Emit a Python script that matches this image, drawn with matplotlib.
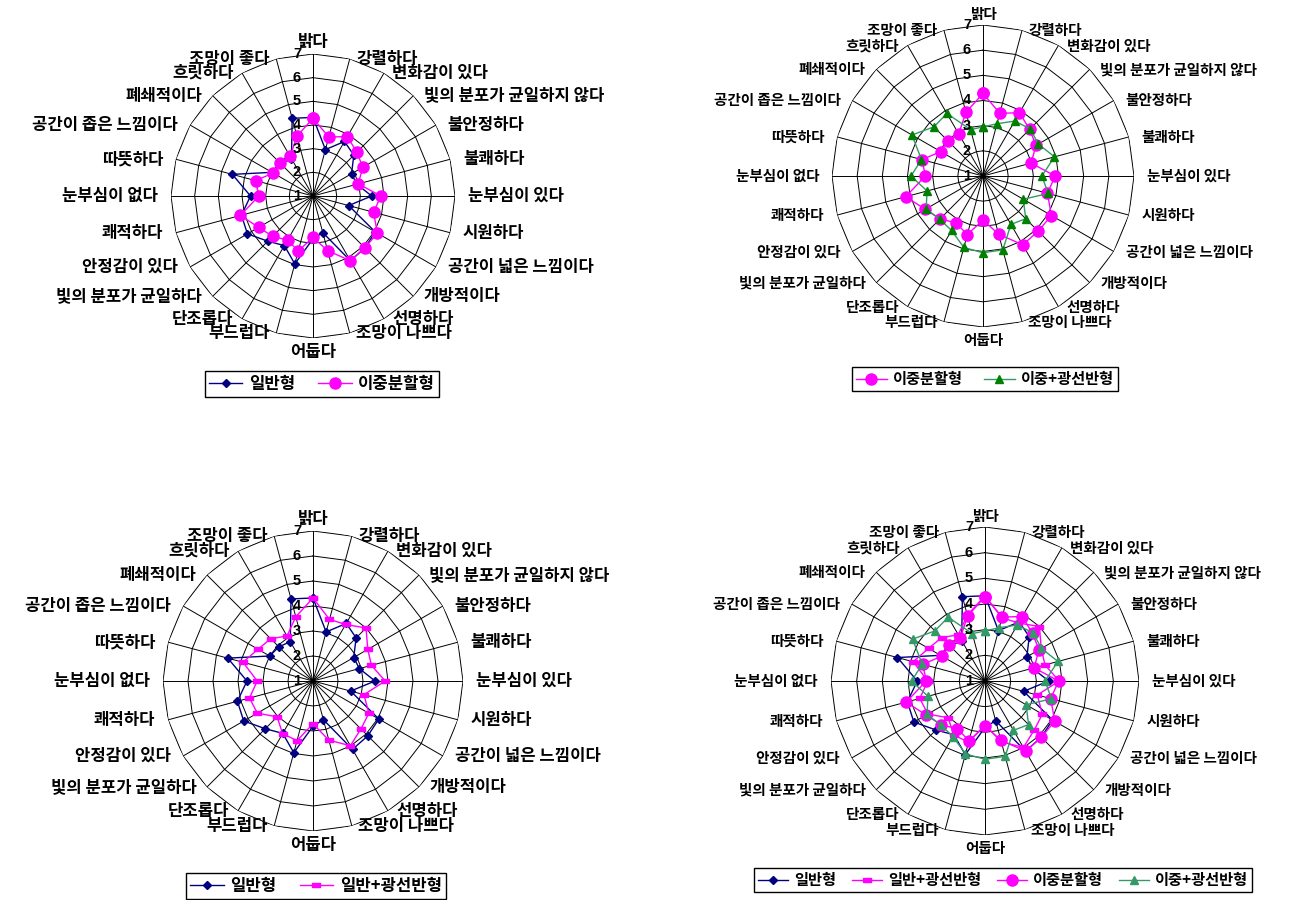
import numpy as np
import matplotlib
matplotlib.use("Agg")
import matplotlib.pyplot as plt

plt.rcParams['font.family'] = ['Noto Sans CJK KR', 'DejaVu Sans']

# ---- data -------------------------------------------------------------
categories = [
    '밝다', '강렬하다', '변화감이 있다', '빛의 분포가 균일하지 않다', '불안정하다',
    '불쾌하다', '눈부심이 있다', '시원하다', '공간이 넓은 느낌이다', '개방적이다',
    '선명하다', '조망이 나쁘다', '어둡다', '부드럽다', '단조롭다',
    '빛의 분포가 균일하다', '안정감이 있다', '쾌적하다', '눈부심이 없다', '따뜻하다',
    '공간이 좁은 느낌이다', '폐쇄적이다', '흐릿하다', '조망이 좋다',
]

general = [4.32, 3.03, 3.66, 3.44, 2.88, 2.92, 3.48, 2.56, 4.04, 4.10, 4.16, 2.60,
           2.81, 3.97, 3.42, 3.70, 4.20, 4.13, 3.64, 4.53, 3.00, 2.93, 2.82, 4.40]
dual = [4.28, 3.58, 3.90, 3.62, 3.43, 2.98, 3.87, 3.65, 4.14, 4.10, 4.16, 3.39,
        2.75, 3.41, 3.15, 3.41, 3.65, 4.18, 3.29, 3.51, 2.94, 2.98, 2.93, 3.62]
general_shelf = [4.32, 3.55, 3.61, 4.00, 3.53, 3.42, 3.89, 3.11, 3.58, 3.71, 3.99, 3.45,
                 2.71, 3.47, 3.43, 3.03, 3.57, 3.63, 3.23, 3.90, 3.54, 3.39, 3.08, 3.66]
dual_shelf = [2.95, 3.15, 3.52, 3.65, 3.54, 3.94, 3.34, 3.68, 2.85, 3.40, 3.22, 4.04,
              4.05, 3.94, 3.50, 3.43, 3.61, 3.30, 3.86, 3.53, 4.26, 3.76, 3.87, 2.91]

series_names = ['일반형', '일반+광선반형', '이중분할형', '이중+광선반형']
scale_ticks = [1, 2, 3, 4, 5, 6, 7]

# ---- styles -----------------------------------------------------------
rect_marker = [(-1, -0.45), (1, -0.45), (1, 0.45), (-1, 0.45), (-1, -0.45)]
styles = {
    '일반형': dict(color='#000080', marker='D', ms=4.5, lw=1.0),
    '일반+광선반형': dict(color='#FF00FF', marker=rect_marker, ms=6, lw=1.0),
    '이중분할형': dict(color='#FF00FF', marker='o', ms=8, lw=1.0),
    '이중+광선반형': dict(color='#339966', marker='^', ms=6, lw=1.0,
                       mfc='#008000', mec='#008000'),
}
values = {'일반형': general, '일반+광선반형': general_shelf,
          '이중분할형': dual, '이중+광선반형': dual_shelf}

W, H = 1304, 900
fig = plt.figure(figsize=(W / 100, H / 100), dpi=100)
fig.patch.set_facecolor('white')

n = len(categories)
theta = np.deg2rad(np.arange(n) * 360.0 / n)
theta_closed = np.append(theta, theta[0])


def radar(cx, cy, R, names, label_fs, legend_fs, legend_center,
          green_marker=None, colspace=1.4):
    ax = fig.add_axes([(cx - R) / W, 1 - (cy + R) / H, 2 * R / W, 2 * R / H],
                      projection='polar')
    ax.set_theta_zero_location('N')
    ax.set_theta_direction(-1)
    rmin, rmax = scale_ticks[0], scale_ticks[-1]
    ax.set_ylim(rmin, rmax)
    ax.grid(False)
    ax.set_xticks([])
    ax.set_yticks([])
    ax.spines['polar'].set_visible(False)
    ax.patch.set_alpha(0)

    # polygonal rings and spokes
    for k in scale_ticks[1:]:
        ax.plot(theta_closed, [k] * (n + 1), color='black', lw=0.7, zorder=1)
    for t in theta:
        ax.plot([t, t], [rmin, rmax], color='black', lw=0.7, zorder=1)

    # series
    handles = []
    for i, name in enumerate(names):
        st = dict(styles[name])
        if name == '이중+광선반형' and green_marker is not None:
            st['mfc'] = green_marker
            st['mec'] = green_marker
        vals = np.append(values[name], values[name][0])
        h, = ax.plot(theta_closed, vals, label=name, zorder=3 + i, clip_on=False, **st)
        handles.append(h)

    # scale numbers along the top spoke
    for k in scale_ticks:
        ax.annotate(str(k), xy=(0, k), xytext=(-12, 0), textcoords='offset pixels',
                    ha='right', va='center', fontsize=10.5, fontweight='bold',
                    family=['Liberation Sans', 'DejaVu Sans'], zorder=10)

    # category labels
    for t, lab in zip(np.rad2deg(theta), categories):
        s = abs(np.sin(np.deg2rad(t)))
        if t == 0:
            ha, va, off = 'center', 'bottom', (0, 3)
        elif t == 180:
            ha, va, off = 'center', 'top', (0, -5)
        elif t < 180:
            ha, va, off = 'left', 'center', (4 + 9 * s, 0)
        else:
            ha, va, off = 'right', 'center', (-(4 + 9 * s), 0)
        ax.annotate(lab, xy=(np.deg2rad(t), rmax), xytext=off,
                    textcoords='offset pixels', ha=ha, va=va,
                    fontsize=label_fs, fontweight='bold', annotation_clip=False)

    leg = fig.legend(handles=handles, loc='center',
                     bbox_to_anchor=(legend_center[0] / W, 1 - legend_center[1] / H),
                     ncol=len(names), frameon=True, fancybox=False, framealpha=1,
                     edgecolor='black', fontsize=legend_fs, handlelength=2.0,
                     handletextpad=0.4, columnspacing=colspace, borderpad=0.25,
                     borderaxespad=0)
    leg.get_frame().set_linewidth(1.0)
    for txt in leg.get_texts():
        txt.set_fontweight('bold')
    return ax


radar(313, 196, 142, ['일반형', '이중분할형'], 12, 12, (322, 384))
radar(983, 176, 151, ['이중분할형', '이중+광선반형'], 10.5, 11, (985, 379))
radar(313, 681, 150, ['일반형', '일반+광선반형'], 12, 12, (316, 886))
radar(985, 681, 154, series_names, 10.5, 11, (1003, 880),
      green_marker='#339966', colspace=1.0)

fig.savefig('out.png', dpi=100, facecolor='white')
